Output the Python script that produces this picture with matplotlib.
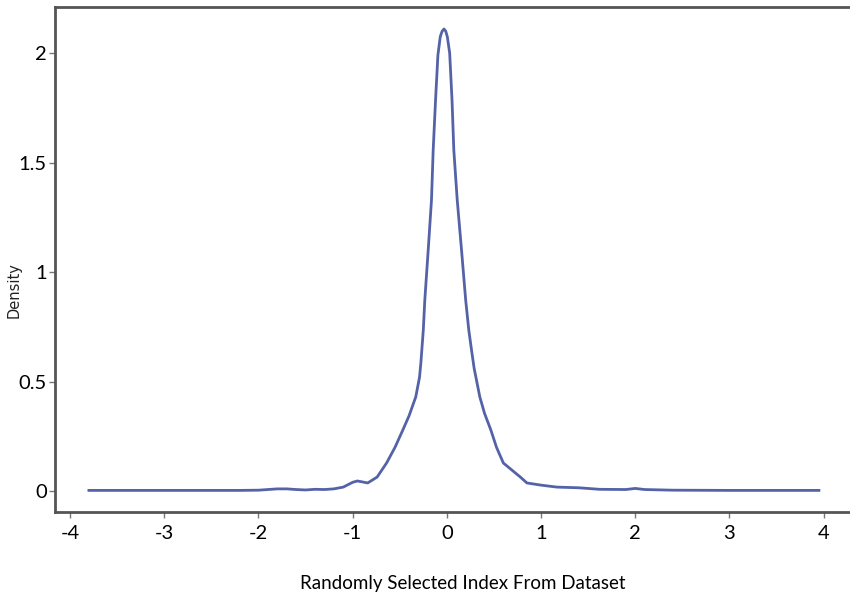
import matplotlib
matplotlib.use("Agg")
import matplotlib.pyplot as plt

# density curve
x_vals = [-3.8, -3.0, -2.2, -2.0, -1.9, -1.8, -1.7, -1.6, -1.5, -1.4, -1.3, -1.2,
          -1.1, -1.0, -0.95, -0.9, -0.84, -0.74, -0.64, -0.55, -0.467, -0.40, -0.33,
          -0.29, -0.276, -0.25, -0.234, -0.198, -0.163, -0.145, -0.12, -0.095, -0.07,
          -0.05, -0.03, -0.012, 0.005, 0.03, 0.055, 0.074, 0.11, 0.156, 0.20, 0.233,
          0.262, 0.29, 0.35, 0.40, 0.467, 0.527, 0.60, 0.69, 0.78, 0.85, 1.0, 1.17,
          1.4, 1.62, 1.9, 2.0, 2.1, 2.4, 3.0, 3.95]
density = [0.003, 0.003, 0.003, 0.004, 0.007, 0.010, 0.010, 0.007, 0.005, 0.008,
           0.007, 0.010, 0.018, 0.040, 0.046, 0.042, 0.037, 0.064, 0.128, 0.200,
           0.279, 0.345, 0.430, 0.520, 0.584, 0.735, 0.872, 1.100, 1.330, 1.557,
           1.785, 1.990, 2.075, 2.100, 2.110, 2.100, 2.075, 2.000, 1.785, 1.557,
           1.330, 1.100, 0.872, 0.735, 0.644, 0.560, 0.430, 0.355, 0.279, 0.200,
           0.128, 0.096, 0.064, 0.037, 0.027, 0.018, 0.015, 0.008, 0.007, 0.012,
           0.007, 0.004, 0.003, 0.003]

x_ticks = [-4, -3, -2, -1, 0, 1, 2, 3, 4]
y_ticks = [0, 0.5, 1, 1.5, 2]
y_labels = ["0", "0.5", "1", "1.5", "2"]

tick_font = ["Lato", "DejaVu Sans"]

fig = plt.figure(figsize=(8.5, 5.92), dpi=100)
ax = fig.add_axes([0.0647, 0.135, 0.9353, 0.853])

ax.plot(x_vals, density, color="#5462a8", lw=2)

ax.set_xlim(-4.16, 4.28)
ax.set_ylim(-0.096, 2.21)
ax.set_xticks(x_ticks)
ax.set_xticklabels([str(t) for t in x_ticks], family=tick_font, fontsize=14.5)
ax.set_yticks(y_ticks)
ax.set_yticklabels(y_labels, family=tick_font, fontsize=14.5)
ax.tick_params(axis="both", direction="out", length=4, width=1, color="#777777", pad=5)
ax.tick_params(axis="y", pad=2)

for s in ["left", "bottom", "top"]:
    ax.spines[s].set_color("#555555")
    ax.spines[s].set_linewidth(2)
ax.spines["right"].set_visible(False)

ax.set_xlabel("Randomly Selected Index From Dataset", family=tick_font, fontsize=13.5)
ax.xaxis.set_label_coords(0.513, -0.125)
ax.set_ylabel("Density", family=["DejaVu Sans"], fontsize=10.5, color="#222222")
ax.yaxis.set_label_coords(-0.042, 0.44)

fig.savefig("out.png", dpi=100)
